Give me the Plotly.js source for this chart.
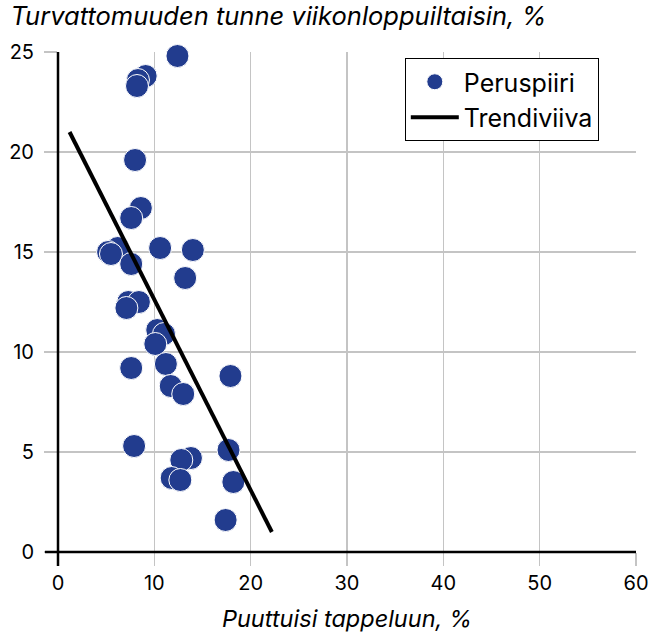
<!DOCTYPE html>
<html>
<head>
<meta charset="utf-8">
<script src="https://cdn.plot.ly/plotly-3.0.1.min.js"></script>
<style>html,body{margin:0;padding:0;background:#fff}#chart{width:654px;height:636px}</style>
</head>
<body>
<div id="chart"></div>
<script>
const seriesName = "Peruspiiri";
const trendName = "Trendiviiva";
const puuttuisi = [12.4, 9.1, 8.3, 8.2, 8.0, 8.6, 7.6, 10.6, 14.0, 6.2, 5.2, 5.5, 7.6, 13.2, 7.3, 8.4, 7.1, 10.3, 11.0, 10.1, 7.6, 11.2, 11.7, 13.0, 17.9, 7.9, 13.8, 12.8, 17.7, 11.8, 12.7, 18.2, 17.4];
const turvattomuus = [24.8, 23.8, 23.6, 23.3, 19.6, 17.2, 16.7, 15.2, 15.1, 15.2, 15.0, 14.9, 14.4, 13.7, 12.5, 12.5, 12.2, 11.1, 10.9, 10.4, 9.2, 9.4, 8.3, 7.9, 8.8, 5.3, 4.7, 4.6, 5.1, 3.7, 3.6, 3.5, 1.6];
const trendX = [1.2, 22.2];
const trendY = [21.0, 1.0];
const xTicks = [0, 10, 20, 30, 40, 50, 60];
const yTicks = [0, 5, 10, 15, 20, 25];
const titleText = "Turvattomuuden tunne viikonloppuiltaisin, %";
const xTitle = "Puuttuisi tappeluun, %";

const font = "Inter, Roboto, 'Liberation Sans', sans-serif";
const grid = "#c4c4c4";

const data = [
  {
    x: puuttuisi, y: turvattomuus, type: "scatter", mode: "markers", name: seriesName,
    marker: {color: "#223c8e", size: 23, line: {color: "#ffffff", width: 1}},
    cliponaxis: false
  },
  {
    x: trendX, y: trendY, type: "scatter", mode: "lines", name: trendName,
    line: {color: "#000000", width: 4}
  }
];

const layout = {
  width: 654, height: 636,
  margin: {l: 58, r: 18, t: 52, b: 84},
  paper_bgcolor: "#ffffff", plot_bgcolor: "#ffffff",
  font: {family: font, color: "#000000", size: 20},
  title: {text: "<i>" + titleText + "</i>", x: 0.016, xanchor: "left", xref: "container", y: 0.975, yanchor: "middle", yref: "container", font: {size: 25.5, family: font, color: "#000"}},
  xaxis: {
    range: [0, 60], tickvals: xTicks, ticktext: xTicks.map(String),
    showgrid: true, gridcolor: grid, gridwidth: 1.5,
    zeroline: false, showline: false, ticks: "outside", ticklen: 13, tickcolor: grid, tickwidth: 1.5,
    tickfont: {size: 20, family: font}, automargin: false,
    title: {text: "<i>" + xTitle + "</i>", font: {size: 23.5, family: font}, standoff: 16}
  },
  yaxis: {
    range: [0, 25], tickvals: yTicks, ticktext: yTicks.map(String),
    showgrid: true, gridcolor: grid, gridwidth: 1.5,
    zeroline: false, showline: false, ticks: "outside", ticklen: 13, tickcolor: grid, tickwidth: 1.5,
    ticklabelstandoff: 6,
    tickfont: {size: 20, family: font}, automargin: false
  },
  shapes: [
    {type: "line", xref: "paper", yref: "paper", x0: -0.0225, x1: 1, y0: 0, y1: 0, line: {color: "#000", width: 2.5}, layer: "above"},
    {type: "line", xref: "paper", yref: "paper", x0: 0, x1: 0, y0: -0.028, y1: 1, line: {color: "#000", width: 2.5}, layer: "above"}
  ],
  legend: {
    x: 0.6, y: 0.988, xanchor: "left", yanchor: "top",
    bordercolor: "#000", borderwidth: 1, bgcolor: "#ffffff",
    font: {size: 25, family: font}, itemwidth: 48,
    entrywidth: 214, entrywidthmode: "pixels"
  },
  showlegend: true
};

Plotly.newPlot("chart", data, layout, {displayModeBar: false, staticPlot: true});
</script>
</body>
</html>
